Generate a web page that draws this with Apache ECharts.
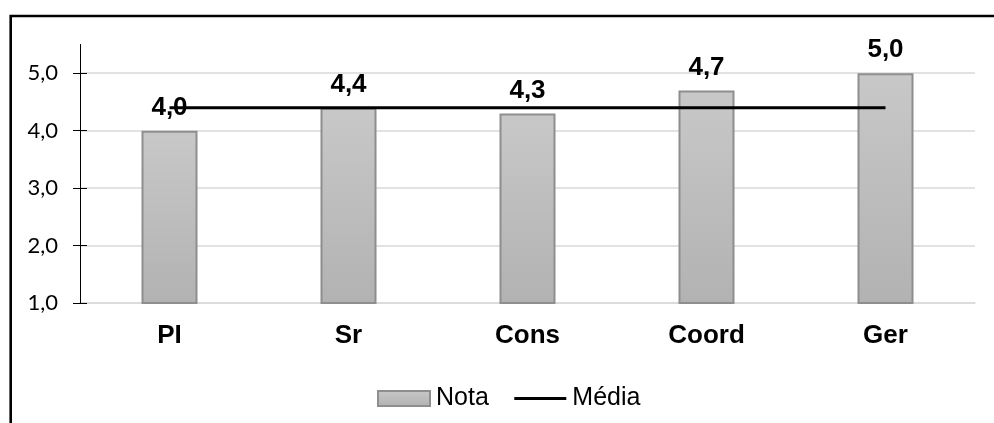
<!DOCTYPE html>
<html>
<head>
<meta charset="utf-8">
<script src="https://cdn.jsdelivr.net/npm/echarts@6/dist/echarts.min.js"></script>
<style>
  html, body { margin: 0; padding: 0; background: #fff; }
  #chart { width: 994px; height: 423px; }
</style>
</head>
<body>
<div id="chart"></div>
<script>
// Categories and values
const categories = ['PI', 'Sr', 'Cons', 'Coord', 'Ger'];
const notas = [4.0, 4.4, 4.3, 4.7, 5.0];
const media = [4.4, 4.4, 4.4, 4.4, 4.4];
const yTicks = [1, 2, 3, 4, 5];
const yMin = 1;
const yMax = 5.5;

const fmt = v => Number(v).toFixed(1).replace('.', ',');
const boldFont = '"Liberation Sans", Arial, sans-serif';

const chart = echarts.init(document.getElementById('chart'), null, { renderer: 'canvas' });

const barFill = new echarts.graphic.LinearGradient(0, 0, 0, 1, [
  { offset: 0, color: '#c8c8c8' },
  { offset: 1, color: '#b2b2b2' }
]);

// plot area geometry
const gridLeft = 80, gridRight = 19, gridTop = 44.5, gridBottom = 120;
const plotH = 423 - gridTop - gridBottom;
// second grid carries the inner half of the cross ticks; its top sits at the last labelled tick
const innerTop = gridTop + plotH * (yMax - yTicks[yTicks.length - 1]) / (yMax - yMin);

chart.setOption({
  animation: false,
  backgroundColor: '#ffffff',
  graphic: [{
    type: 'rect',
    shape: { x: 10.7, y: 16, width: 1400, height: 900 },
    style: { fill: 'none', stroke: '#000', lineWidth: 2.6 },
    silent: true,
    z: 100
  }],
  grid: [
    { left: gridLeft, right: gridRight, top: gridTop, bottom: gridBottom, containLabel: false },
    { left: gridLeft, right: gridRight, top: innerTop, bottom: gridBottom, containLabel: false }
  ],
  legend: {
    left: 372,
    top: 381,
    itemWidth: 52,
    itemHeight: 15,
    itemGap: 24,
    textStyle: { fontFamily: boldFont, fontSize: 25, color: '#000', padding: [0, 0, 0, 1] },
    data: [
      { name: 'Nota', icon: 'rect' },
      {
        name: 'Média',
        itemStyle: { color: 'rgba(0,0,0,0)', borderWidth: 0, opacity: 0 },
        lineStyle: { color: '#000', width: 3 }
      }
    ]
  },
  xAxis: [{
    type: 'category',
    gridIndex: 0,
    data: categories,
    boundaryGap: true,
    axisLine: { lineStyle: { color: '#d9d9d9', width: 1.5 } },
    axisTick: { alignWithLabel: true, length: 6, lineStyle: { color: '#d9d9d9', width: 1.5 } },
    axisLabel: { margin: 20, fontFamily: boldFont, fontSize: 26, fontWeight: 'bold', color: '#000' }
  }, {
    type: 'category',
    gridIndex: 1,
    data: categories,
    axisLine: { show: false },
    axisTick: { show: false },
    axisLabel: { show: false },
    splitLine: { show: false }
  }],
  yAxis: [{
    type: 'value',
    gridIndex: 0,
    min: yMin,
    max: yMax,
    interval: 1,
    axisLine: { show: true, lineStyle: { color: '#000', width: 1 } },
    axisTick: { show: true, inside: false, length: 7, customValues: yTicks, lineStyle: { color: '#000', width: 1 } },
    axisLabel: {
      margin: 22,
      customValues: yTicks,
      fontFamily: 'Lato, "Open Sans", sans-serif',
      fontSize: 22,
      color: '#000',
      formatter: fmt
    },
    splitLine: { show: true, lineStyle: { color: '#d9d9d9', width: 1.5 } }
  }, {
    type: 'value',
    gridIndex: 1,
    min: yMin,
    max: yTicks[yTicks.length - 1],
    interval: 1,
    z: 10,
    axisLine: { show: true, lineStyle: { color: '#000', width: 1 } },
    axisTick: { show: true, inside: true, length: 7, lineStyle: { color: '#000', width: 1 } },
    axisLabel: { show: false },
    splitLine: { show: false }
  }],
  series: [{
    name: 'Nota',
    type: 'bar',
    data: notas,
    barWidth: 56,
    z: 2,
    itemStyle: { color: barFill, borderColor: '#8e8e8e', borderWidth: 2 },
    label: {
      show: true,
      position: 'top',
      distance: 10,
      fontFamily: boldFont,
      fontSize: 26,
      fontWeight: 'bold',
      color: '#000',
      formatter: p => fmt(p.value)
    }
  }, {
    name: 'Média',
    type: 'line',
    data: media,
    symbol: 'none',
    z: 3,
    lineStyle: { color: '#000', width: 3 },
    itemStyle: { color: '#000' }
  }]
});
</script>
</body>
</html>
